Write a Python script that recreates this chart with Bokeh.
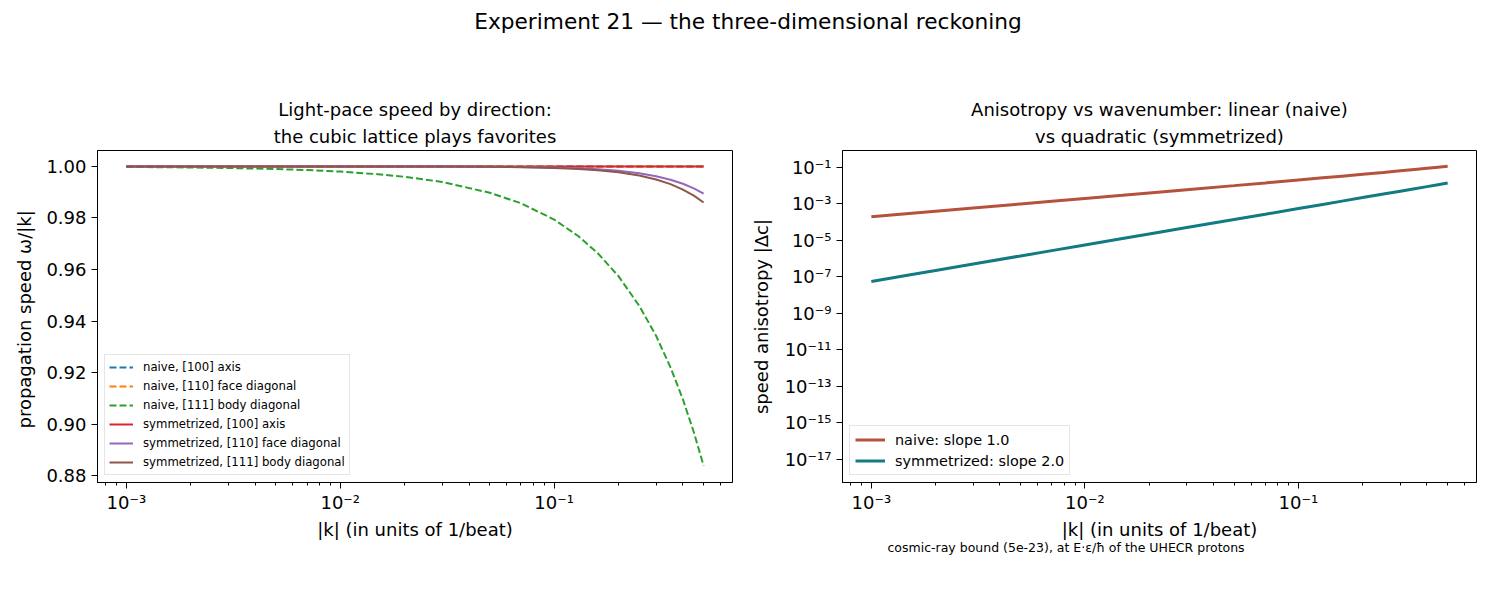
from bokeh.plotting import figure
from bokeh.layouts import column, row
from bokeh.models import (Range1d, FixedTicker, CustomJSTickFormatter, PrintfTickFormatter,
                          Label, Legend, Title)
from bokeh.embed import file_html
from bokeh.resources import INLINE

FONT = "DejaVu Sans"

# ---------------- data ----------------
k = [0.001, 0.0015, 0.002, 0.003, 0.005, 0.007, 0.01, 0.015, 0.02, 0.03, 0.05,
     0.07, 0.1, 0.13, 0.16, 0.2, 0.25, 0.3, 0.35, 0.4, 0.45, 0.5]

naive_100 = [1.0, 1.0, 1.0, 1.0, 1.0, 1.0, 1.0, 1.0, 1.0, 1.0, 1.0,
             1.0, 1.0, 1.0, 1.0, 1.0, 1.0, 1.0, 1.0, 1.0, 1.0, 1.0]
naive_110 = [1.0, 1.0, 1.0, 1.0, 1.0, 1.0, 1.0, 1.0, 1.0, 1.0, 1.0,
             1.0, 1.0, 1.0, 1.0, 1.0, 1.0, 1.0, 1.0, 1.0, 1.0, 1.0]
naive_111 = [0.9998, 0.9997, 0.9996, 0.9994, 0.9990, 0.9986, 0.9980, 0.9970, 0.9960, 0.9940, 0.9898,
             0.9857, 0.9794, 0.9729, 0.9663, 0.9574, 0.9459, 0.9342, 0.9220, 0.9096, 0.8968, 0.8838]
sym_100 = [1.0, 1.0, 1.0, 1.0, 1.0, 1.0, 1.0, 1.0, 1.0, 1.0, 1.0,
           1.0, 1.0, 1.0, 1.0, 1.0, 1.0, 1.0, 1.0, 1.0, 1.0, 1.0]
sym_110 = [1.0, 1.0, 1.0, 1.0, 1.0, 1.0, 1.0, 0.99999, 0.99998, 0.99996, 0.99990,
           0.99979, 0.99958, 0.99929, 0.99893, 0.99832, 0.99738, 0.99622, 0.99486, 0.99328, 0.99150, 0.98950]
sym_111 = [1.0, 1.0, 1.0, 1.0, 1.0, 1.0, 1.0, 0.99999, 0.99998, 0.99995, 0.99986,
           0.99973, 0.99944, 0.99905, 0.99857, 0.99776, 0.99650, 0.99496, 0.99314, 0.99104, 0.98866, 0.98600]

aniso_naive = [2.0e-4, 3.0e-4, 4.0e-4, 6.0e-4, 1.0e-3, 1.4e-3, 2.0e-3, 3.0e-3, 4.03e-3, 6.06e-3, 1.016e-2,
               1.432e-2, 2.065e-2, 2.71e-2, 3.366e-2, 4.26e-2, 5.406e-2, 6.585e-2, 7.796e-2, 9.04e-2, 0.1032, 0.1163]
aniso_sym = [5.6e-8, 1.26e-7, 2.24e-7, 5.04e-7, 1.4e-6, 2.74e-6, 5.6e-6, 1.26e-5, 2.24e-5, 5.04e-5, 1.4e-4,
             2.74e-4, 5.6e-4, 9.46e-4, 1.434e-3, 2.24e-3, 3.5e-3, 5.04e-3, 6.86e-3, 8.96e-3, 1.134e-2, 1.4e-2]

left_labels = ["naive, [100] axis", "naive, [110] face diagonal", "naive, [111] body diagonal",
               "symmetrized, [100] axis", "symmetrized, [110] face diagonal", "symmetrized, [111] body diagonal"]
right_labels = ["naive: slope 1.0", "symmetrized: slope 2.0"]
left_title = ["Light-pace speed by direction:", "the cubic lattice plays favorites"]
right_title = ["Anisotropy vs wavenumber: linear (naive)", "vs quadratic (symmetrized)"]
cosmic_text = "cosmic-ray bound (5e-23), at E\u00b7\u03b5/\u0127 of the UHECR protons"

# ---------------- styling helpers ----------------
SUP = CustomJSTickFormatter(code="""
const e = Math.round(Math.log10(tick));
const s = {'-':'\u207b','0':'\u2070','1':'\u00b9','2':'\u00b2','3':'\u00b3','4':'\u2074',
           '5':'\u2075','6':'\u2076','7':'\u2077','8':'\u2078','9':'\u2079'};
return '10' + String(e).split('').map(c => s[c]).join('');
""")

x_major = [1e-3, 1e-2, 1e-1]
x_minor = [m * d for d in (1e-4, 1e-3, 1e-2, 1e-1) for m in range(2, 10)]


def style(p, lines):
    p.background_fill_color = "white"
    p.border_fill_color = "white"
    p.outline_line_color = "black"
    p.outline_line_width = 1
    p.grid.visible = False
    for ax in p.axis:
        ax.axis_line_color = "black"
        ax.major_tick_line_color = "black"
        ax.minor_tick_line_color = "black"
        ax.major_tick_out = 6
        ax.major_tick_in = 0
        ax.minor_tick_out = 3
        ax.minor_tick_in = 0
        ax.major_label_text_font = FONT
        ax.major_label_text_font_size = "18px"
        ax.major_label_text_color = "black"
        ax.axis_label_text_font = FONT
        ax.axis_label_text_font_size = "18px"
        ax.axis_label_text_font_style = "normal"
        ax.axis_label_text_color = "black"
    # two centred title lines: the one added last sits farthest from the frame
    p.add_layout(Title(text=lines[1], align="center", text_font=FONT, text_font_size="18px",
                       text_font_style="normal", text_color="black", standoff=8), "above")
    p.add_layout(Title(text=lines[0], align="center", text_font=FONT, text_font_size="18px",
                       text_font_style="normal", text_color="black", standoff=0), "above")


# ---------------- suptitle ----------------
p0 = figure(width=1495, height=60, x_range=(0, 1), y_range=(0, 1), toolbar_location=None,
            output_backend="svg", x_axis_location=None, y_axis_location=None, min_border=0)
p0.outline_line_color = None
p0.grid.visible = False
p0.add_layout(Label(x=0.5, y=0.65, text="Experiment 21 \u2014 the three-dimensional reckoning",
                    text_align="center", text_baseline="middle", text_font=FONT,
                    text_font_size="21.7px", text_color="black"))

# ---------------- left ----------------
p1 = figure(width=740, height=538, x_axis_type="log", toolbar_location=None, output_backend="svg",
            x_range=Range1d(10 ** -3.135, 10 ** -0.166), y_range=Range1d(0.8773, 1.0062),
            min_border_left=97, min_border_right=8, min_border_top=90, min_border_bottom=116)
style(p1, left_title)
p1.xaxis.ticker = FixedTicker(ticks=x_major, minor_ticks=x_minor)
p1.xaxis.formatter = SUP
p1.yaxis.ticker = FixedTicker(ticks=[0.88, 0.90, 0.92, 0.94, 0.96, 0.98, 1.00], minor_ticks=[])
p1.yaxis.formatter = PrintfTickFormatter(format="%.2f")
p1.xaxis.axis_label = "|k| (in units of 1/beat)"
p1.yaxis.axis_label = "propagation speed  \u03c9/|k|"
p1.yaxis.major_label_standoff = 5
p1.yaxis.axis_label_standoff = 8
p1.xaxis.major_label_standoff = 3
p1.xaxis.axis_label_standoff = 3

series = [(naive_100, "#1f77b4", "7 3"), (naive_110, "#ff7f0e", "7 3"), (naive_111, "#2ca02c", "7 3"),
          (sym_100, "#d62728", "solid"), (sym_110, "#9467bd", "solid"), (sym_111, "#8c564b", "solid")]
items = []
for (ys, col, dash), lab in zip(series, left_labels):
    r = p1.line(k, ys, line_color=col, line_width=2, line_dash=dash)
    items.append((lab, [r]))
leg1 = Legend(items=items, location="bottom_left", label_text_font=FONT, label_text_font_size="11.7px",
              label_text_color="black", glyph_width=24, glyph_height=16, label_height=16,
              label_standoff=10, spacing=3, padding=4, margin=7, border_line_color="#cccccc",
              border_line_width=1, background_fill_alpha=0.8)
p1.add_layout(leg1, "center")

# ---------------- right ----------------
p2 = figure(width=755, height=538, x_axis_type="log", y_axis_type="log", toolbar_location=None,
            output_backend="svg",
            x_range=Range1d(10 ** -3.135, 10 ** -0.166), y_range=Range1d(10 ** -18.29, 10 ** -0.065),
            min_border_left=102, min_border_right=19, min_border_top=90, min_border_bottom=116)
style(p2, right_title)
p2.xaxis.ticker = FixedTicker(ticks=x_major, minor_ticks=x_minor)
p2.xaxis.formatter = SUP
p2.yaxis.ticker = FixedTicker(ticks=[10.0 ** e for e in range(-17, 0, 2)], minor_ticks=[])
p2.yaxis.formatter = SUP
p2.xaxis.axis_label = "|k| (in units of 1/beat)"
p2.yaxis.axis_label = "speed anisotropy |\u0394c|"
p2.yaxis.major_label_standoff = 5
p2.yaxis.axis_label_standoff = 10
p2.xaxis.major_label_standoff = 3
p2.xaxis.axis_label_standoff = 3

r1 = p2.line(k, aniso_naive, line_color="#b5523b", line_width=3)
r2 = p2.line(k, aniso_sym, line_color="#117a82", line_width=3)
leg2 = Legend(items=[(right_labels[0], [r1]), (right_labels[1], [r2])], location="bottom_left",
              label_text_font=FONT, label_text_font_size="14.4px", label_text_color="black",
              glyph_width=30, glyph_height=17, label_height=17, label_standoff=10, spacing=4,
              padding=5, margin=7, border_line_color="#cccccc", border_line_width=1,
              background_fill_alpha=0.8)
p2.add_layout(leg2, "center")
p2.add_layout(Title(text=cosmic_text, align="left", offset=45, text_font=FONT, text_font_size="12.5px",
                    text_font_style="normal", text_color="black", standoff=-9), "below")

layout = column(p0, row(p1, p2))
open("out.html", "w").write(file_html(layout, INLINE))
